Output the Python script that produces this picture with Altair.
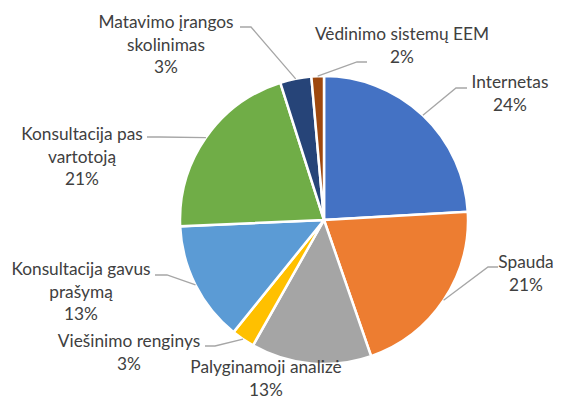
import math
import altair as alt
import pandas as pd

# ---- data ----
categories = [
    "Internetas",
    "Spauda",
    "Palyginamoji analizė",
    "Viešinimo renginys",
    "Konsultacija gavus prašymą",
    "Konsultacija pas vartotoją",
    "Matavimo įrangos skolinimas",
    "Vėdinimo sistemų EEM",
]
values = [24.1, 20.6, 13.5, 2.6, 13.5, 20.8, 3.5, 1.4]
pct_labels = ["24%", "21%", "13%", "3%", "13%", "21%", "3%", "2%"]
label_lines = [
    ["Internetas"],
    ["Spauda"],
    ["Palyginamoji analizė"],
    ["Viešinimo renginys"],
    ["Konsultacija gavus", "prašymą"],
    ["Konsultacija pas", "vartotoją"],
    ["Matavimo įrangos", "skolinimas"],
    ["Vėdinimo sistemų EEM"],
]
colors = ["#4472C4", "#ED7D31", "#A5A5A5", "#FFC000",
          "#5B9BD5", "#70AD47", "#264478", "#9E480E"]

# ---- label placement (pixel offsets of first text line from pie centre, y downward) ----
label_dx = [186, 202, -58, -195, -243, -242, -158, 78]
label_dy = [-137, 43, 148, 122, 50, -85, -197, -185]
tail_dx = [143, 174, None, -119, -169, -177, -84, 43]
tail_dy = [-132, 47, None, 126, 55, -83, -193, -158]
elbow_dx = [132, 164, None, -109, -157, -164, -73, 33]

# ---- layout ----
W, H = 546, 390
R = 144
CX, CY = 316, 212
xscale = alt.Scale(domain=[-CX / R, (W - CX) / R], nice=False, zero=False)
yscale = alt.Scale(domain=[-CY / R, (H - CY) / R], nice=False, zero=False, reverse=True)

total = sum(values)
pie_df = pd.DataFrame({"cat": categories, "value": values, "idx": list(range(len(values)))})

# text labels
lab_rows = []
for i, c in enumerate(categories):
    lab_rows.append({
        "cat": c,
        "text": "\n".join(label_lines[i] + [pct_labels[i]]),
        "x": label_dx[i] / R,
        "y": label_dy[i] / R,
    })
lab_df = pd.DataFrame(lab_rows)

# leader lines: from slice edge at mid-angle -> elbow -> label
lead_rows = []
cum = 0.0
for i, c in enumerate(categories):
    mid = (cum + values[i] / 2) / total * 2 * math.pi
    cum += values[i]
    if tail_dx[i] is None:
        continue
    sx, sy = math.sin(mid), -math.cos(mid)
    lead_rows.append({"cat": c, "o": 0, "x": sx, "y": sy})
    lead_rows.append({"cat": c, "o": 1, "x": elbow_dx[i] / R, "y": tail_dy[i] / R})
    lead_rows.append({"cat": c, "o": 2, "x": tail_dx[i] / R, "y": tail_dy[i] / R})
lead_df = pd.DataFrame(lead_rows)

pie = alt.Chart(pie_df).mark_arc(outerRadius=R, stroke="white", strokeWidth=2.5).encode(
    theta=alt.Theta("value:Q", stack=True),
    order=alt.Order("idx:Q", sort="ascending"),
    color=alt.Color("cat:N", scale=alt.Scale(domain=categories, range=colors), legend=None),
    x=alt.X(datum=0, scale=xscale, axis=None),
    y=alt.Y(datum=0, scale=yscale, axis=None),
)

leaders = alt.Chart(lead_df).mark_line(color="#A6A6A6", strokeWidth=1.3).encode(
    x=alt.X("x:Q", scale=xscale, axis=None),
    y=alt.Y("y:Q", scale=yscale, axis=None),
    detail="cat:N",
    order="o:Q",
)

labels = alt.Chart(lab_df).mark_text(
    font="Lato", fontSize=17.3, color="#404040", lineBreak="\n",
    lineHeight=22.5, align="center", baseline="middle",
).encode(
    x=alt.X("x:Q", scale=xscale, axis=None),
    y=alt.Y("y:Q", scale=yscale, axis=None),
    text="text:N",
)

chart = alt.layer(pie, leaders, labels).properties(
    width=W, height=H, padding=0,
    autosize=alt.AutoSizeParams(type="none"),
).configure_view(stroke=None)

chart.save("out.html", embed_options={"renderer": "svg", "actions": False})
